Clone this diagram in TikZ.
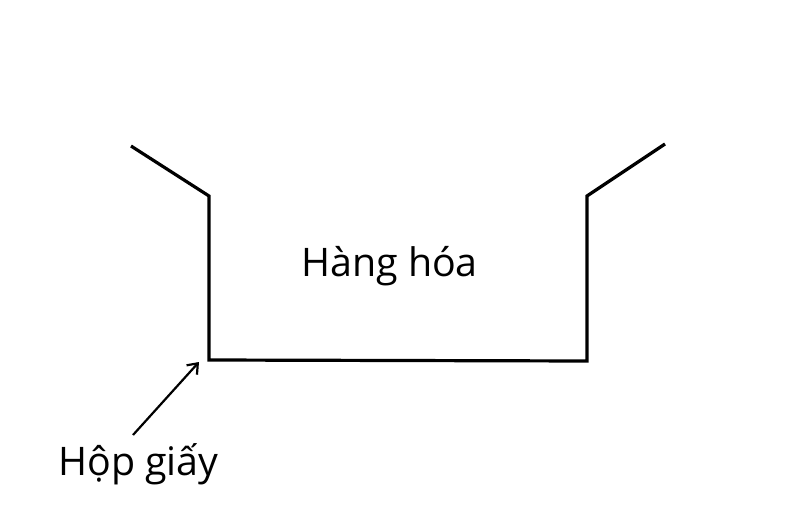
\documentclass[tikz,border=0pt]{standalone}
\usepackage{fontspec}
\setmainfont{Open Sans}
\usetikzlibrary{arrows.meta}
\begin{document}
\begin{tikzpicture}[x=1bp,y=-1bp,
  boxline/.style={line width=3.2bp, line join=miter},
  lbl/.style={font=\fontsize{39.5}{46}\selectfont, inner sep=0pt, anchor=base west},
  pointer/.style={line width=2.2bp, -{Straight Barb[length=9bp,width=14bp,line width=2.2bp]}}]
\useasboundingbox (0,0) rectangle (794,513);
\coordinate (lf) at (131,146);
\coordinate (lt) at (209,196);
\coordinate (lb) at (209,360);
\coordinate (rb) at (587,361);
\coordinate (rt) at (587,196);
\coordinate (rf) at (665,144);
\draw[boxline] (lf) -- (lt) -- (lb) -- (rb) -- (rt) -- (rf);
\node[lbl] (goods) at (301,277) {Hàng hóa};
\node[lbl] (box) at (58,475) {Hộp giấy};
\coordinate (as) at (133,435);
\coordinate (ae) at (199,362);
\draw[pointer] (as) -- (ae);
\end{tikzpicture}
\end{document}
